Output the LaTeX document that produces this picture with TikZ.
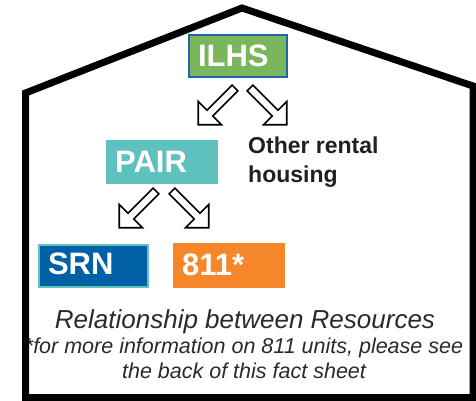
\documentclass[tikz,border=0pt]{standalone}
\usepackage{fontspec}
\setmainfont{Liberation Sans}
\definecolor{ilhsgreen}{HTML}{7AB65B}
\definecolor{ilhsblue}{HTML}{1F67A8}
\definecolor{pairteal}{HTML}{5EC1BD}
\definecolor{srnblue}{HTML}{0060A6}
\definecolor{srnedge}{HTML}{62C3BE}
\definecolor{orangebox}{HTML}{F5862A}
\definecolor{darktext}{HTML}{231F20}
\definecolor{graytext}{HTML}{2A2A2A}
\begin{document}
\begin{tikzpicture}[x=1pt,y=-1pt,
  box/.style={rectangle, anchor=north west, inner xsep=9pt, inner ysep=0pt,
    text=white, font=\fontsize{31}{31}\selectfont\bfseries, align=left,
    text height=22pt, text depth=2pt},
  blockarrow/.pic={\draw[line width=1.6pt, fill=white, miter limit=10]
    (0,-4) -- (35.5,-4) -- (35.5,-16.5) -- (52,0) -- (35.5,16.5) -- (35.5,4) -- (0,4) -- cycle;}
]
\useasboundingbox (0,0) rectangle (476,400);
\fill[white] (0,0) rectangle (476,400);

% boxes
\node[box, fill=ilhsgreen, draw=ilhsblue, line width=2pt,
  minimum width=98pt, minimum height=42pt, text width=80pt] (ilhs) at (188,34) {ILHS};
\node[box, fill=pairteal, minimum width=112pt, minimum height=44pt, text width=94pt] (pair) at (106,140) {PAIR};
\node[box, fill=srnblue, draw=srnedge, line width=2pt, text depth=5pt,
  minimum width=109pt, minimum height=42pt, text width=91pt] (srn) at (38,244) {SRN};
\node[box, fill=orangebox, minimum width=112pt, minimum height=45pt, text width=94pt] (eleven) at (173,243) {811*};

% other rental housing
\node[anchor=north west, align=left, inner sep=0pt, text=darktext,
  font=\fontsize{23}{29}\selectfont\bfseries] (other) at (248,137) {Other rental\\housing};

% block arrows
\path (235,88) pic[rotate=225] {blockarrow};
\path (250,88) pic[rotate=315] {blockarrow};
\path (156,191) pic[rotate=225] {blockarrow};
\path (172,191) pic[rotate=315] {blockarrow};

% captions
\node[anchor=base, inner sep=0pt, text=graytext,
  font=\fontsize{26}{30}\selectfont\itshape] (title) at (245,328) {Relationship between Resources};
\node[anchor=north, align=center, inner sep=0pt, text=graytext,
  font=\fontsize{21.5}{25}\selectfont\itshape] (note) at (244,337.5)
  {*for more information on 811 units, please see\\the back of this fact sheet};

% house outline
\draw[line width=7pt, line join=miter] (25.5,397.5) -- (25.5,93) -- (242,8) -- (473,86) -- (473,397.5) -- cycle;
\end{tikzpicture}
\end{document}
